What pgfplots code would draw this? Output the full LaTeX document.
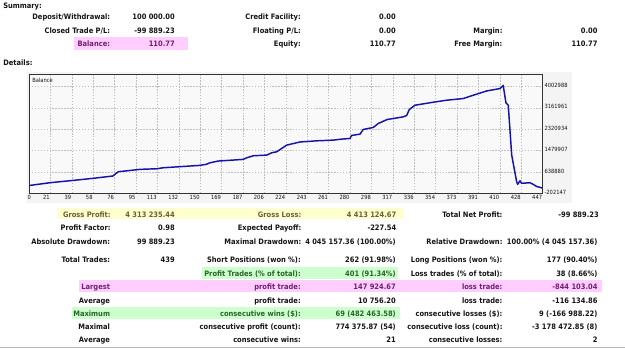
\documentclass[border=0pt]{standalone}
\usepackage{pgfplots}
\pgfplotsset{compat=1.18}
\usepackage{fontspec}
\setmainfont{DejaVu Sans}[FakeStretch=0.9]

\definecolor{panelbg}{RGB}{244,244,244}
\definecolor{plotbg}{RGB}{249,249,249}
\definecolor{gridgray}{RGB}{190,190,190}
\definecolor{curveblue}{RGB}{20,20,170}
\definecolor{pinkbg}{RGB}{255,206,255}
\definecolor{pinktext}{RGB}{112,30,112}
\definecolor{greenbg}{RGB}{206,255,206}
\definecolor{greentext}{RGB}{40,100,40}
\definecolor{yellowbg}{RGB}{255,255,206}
\definecolor{yellowtext}{RGB}{100,96,60}
\definecolor{bodytext}{RGB}{20,20,20}

% right-aligned cell: [colour]{x}{y}{text}
\newcommand\cell[4][bodytext]{\node[anchor=mid east,inner sep=0pt,text=#1] at (#2,#3) {#4};}

\begin{document}
\begin{tikzpicture}
\begin{scope}[x=0.75pt,y=-0.75pt,font=\fontsize{5.6}{6.5}\selectfont\bfseries]
\path[use as bounding box] (0,0) rectangle (625,349);

% chart panel
\fill[panelbg] (27,72) rectangle (572,203);

% highlighted cells
\fill[pinkbg]   (74,37)    rectangle (188.3,50.3);
\fill[yellowbg] (57,207.8) rectangle (403,219.3);
\fill[greenbg]  (201.7,267) rectangle (397.7,278.5);
\fill[pinkbg]   (79,280.3) rectangle (601.7,291.8);
\fill[greenbg]  (72.3,307) rectangle (400,318.5);

% summary block
\node[anchor=mid west,inner sep=0pt,text=bodytext] at (3,4.5) {Summary:};
\cell{110.3}{16}{Deposit/Withdrawal:}
\cell{175}{16}{100 000.00}
\cell{301}{16}{Credit Facility:}
\cell{396}{16}{0.00}
\cell{110.3}{29.7}{Closed Trade P/L:}
\cell{175}{29.7}{-99 889.23}
\cell{301}{29.7}{Floating P/L:}
\cell{396}{29.7}{0.00}
\cell{502.7}{29.7}{Margin:}
\cell{597.7}{29.7}{0.00}
\cell[pinktext]{110.3}{43.3}{Balance:}
\cell[pinktext]{175}{43.3}{110.77}
\cell{301}{43.3}{Equity:}
\cell{396}{43.3}{110.77}
\cell{502.7}{43.3}{Free Margin:}
\cell{597.7}{43.3}{110.77}

\node[anchor=mid west,inner sep=0pt,text=bodytext] at (3,62) {Details:};

% details block
\cell[yellowtext]{110.8}{213.5}{Gross Profit:}
\cell[yellowtext]{175}{213.5}{4 313 235.44}
\cell[yellowtext]{301.5}{213.5}{Gross Loss:}
\cell[yellowtext]{396.5}{213.5}{4 413 124.67}
\cell{502.7}{213.5}{Total Net Profit:}
\cell{599}{213.5}{-99 889.23}

\cell{110.8}{227}{Profit Factor:}
\cell{175}{227}{0.98}
\cell{301.5}{227}{Expected Payoff:}
\cell{396.5}{227}{-227.54}

\cell{110.3}{240.7}{Absolute Drawdown:}
\cell{175}{240.7}{99 889.23}
\cell{301.5}{240.7}{Maximal Drawdown:}
\cell{396}{240.7}{4 045 157.36 (100.00\%)}
\cell{502.7}{240.7}{Relative Drawdown:}
\cell{597.7}{240.7}{100.00\% (4 045 157.36)}

\cell{110.3}{259.3}{Total Trades:}
\cell{175}{259.3}{439}
\cell{301}{259.3}{Short Positions (won \%):}
\cell{396}{259.3}{262 (91.98\%)}
\cell{502.7}{259.3}{Long Positions (won \%):}
\cell{597.7}{259.3}{177 (90.40\%)}

\cell[greentext]{301}{272.7}{Profit Trades (\% of total):}
\cell[greentext]{396}{272.7}{401 (91.34\%)}
\cell{502.7}{272.7}{Loss trades (\% of total):}
\cell{597.7}{272.7}{38 (8.66\%)}

\cell[pinktext]{110.3}{286}{Largest}
\cell[pinktext]{301}{286}{profit trade:}
\cell[pinktext]{396}{286}{147 924.67}
\cell[pinktext]{502.7}{286}{loss trade:}
\cell[pinktext]{597.7}{286}{-844 103.04}

\cell{110.3}{299.5}{Average}
\cell{301}{299.5}{profit trade:}
\cell{396}{299.5}{10 756.20}
\cell{502.7}{299.5}{loss trade:}
\cell{597.7}{299.5}{-116 134.86}

\cell[greentext]{110.3}{312.7}{Maximum}
\cell[greentext]{301}{312.7}{consecutive wins (\$):}
\cell[greentext]{396}{312.7}{69 (482 463.58)}
\cell{502.7}{312.7}{consecutive losses (\$):}
\cell{597.7}{312.7}{9 (-166 988.22)}

\cell{110.3}{326}{Maximal}
\cell{301}{326}{consecutive profit (count):}
\cell{396}{326}{774 375.87 (54)}
\cell{502.7}{326}{consecutive loss (count):}
\cell{597.7}{326}{-3 178 472.85 (8)}

\cell{110.3}{339.3}{Average}
\cell{301}{339.3}{consecutive wins:}
\cell{396}{339.3}{21}
\cell{502.7}{339.3}{consecutive losses:}
\cell{597.7}{339.3}{2}

\draw[gray!55,line width=0.75pt] (0,347.3) -- (625,347.3);
\end{scope}

% balance curve
\begin{axis}[
  scale only axis,
  width=385.3pt, height=88.9pt,
  anchor=north west, at={(21.75pt,-56.0pt)},
  xmin=0, xmax=447,
  ymin=-202147, ymax=4468000,
  scaled x ticks=false, scaled y ticks=false,
  axis background/.style={fill=plotbg},
  axis line style={draw=black!80,line width=0.75pt},
  grid=major,
  major grid style={draw=gridgray,line width=0.45pt,dash pattern=on 1.1pt off 1.1pt},
  major tick length=0pt,
  xtick={0,18.625,37.25,55.875,74.5,93.125,111.75,130.375,149,167.625,186.25,204.875,223.5,242.125,260.75,279.375,298,316.625,335.25,353.875,372.5,391.125,409.75,428.375,447},
  xticklabels={\makebox[0pt][l]{0},21,39,58,76,95,113,132,150,169,187,206,224,243,261,280,298,317,336,354,373,391,410,428,447},
  xticklabel style={anchor=north east,inner sep=0pt,yshift=-1.7pt,xshift=-0.3pt,font=\fontsize{4.3}{5}\selectfont,text=bodytext},
  ytick={-202147,638880,1479907,2320934,3161961,4002988},
  yticklabels={-202147,638880,1479907,2320934,3161961,4002988},
  yticklabel pos=right,
  yticklabel style={anchor=west,inner sep=0pt,xshift=1.2pt,yshift=0.7pt,font=\fontsize{4.3}{5}\selectfont,text=bodytext},
  clip=true,
]
\addplot[curveblue,line width=1.1pt,line join=round] coordinates {
(0,100000) (18.3,211000) (35.7,289000) (55.7,383000) (72.8,474000)
(74.8,540000) (77.7,643000) (96.6,737000) (111.1,761000) (116.8,800000)
(148.8,894000) (154,933000) (157.5,996000) (164.4,1063000) (186.4,1130000)
(189.4,1193000) (195.1,1272000) (206.8,1299000) (211.2,1390000) (215.5,1429000)
(221.2,1602000) (224.2,1692000) (235.8,1816000) (250.3,1861000) (264.7,1889000)
(272,1928000) (279.3,1955000) (280.7,2073000) (288,2124000) (290.8,2309000)
(299.5,2388000) (303.9,2545000) (311.7,2702000) (325.6,2805000) (328.6,2860000)
(330.9,3095000) (335.8,3264000) (351.7,3382000) (363.3,3461000) (377.8,3527000)
(386.5,3657000) (398.2,3826000) (409.8,3920000) (412.6,4045268) (415,3355000)
(417,3264000) (420,1299000) (424.3,250000) (425.2,148000) (427.2,289000)
(428.6,187000) (435.9,211000) (438.7,148000) (441.7,60000) (444.6,30000)
(446.3,110.77)
};
\end{axis}

\node[anchor=mid west,inner sep=0pt,font=\fontsize{4.3}{5}\selectfont,text=bodytext] at (24pt,-59.5pt) {Balance};
\end{tikzpicture}
\end{document}
